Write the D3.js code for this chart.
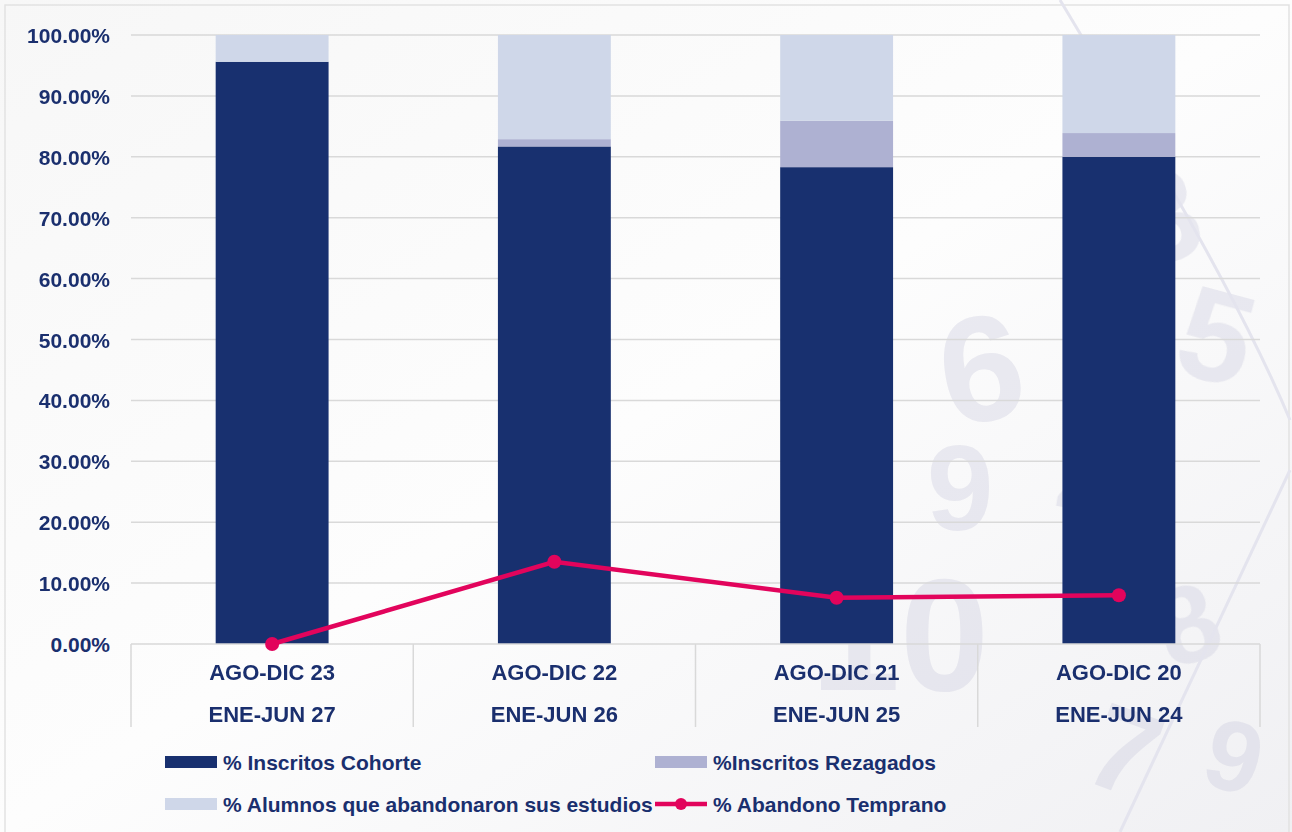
<!DOCTYPE html>
<html>
<head>
<meta charset="utf-8">
<script src="https://cdn.jsdelivr.net/npm/d3@7"></script>
<style>
  body { margin: 0; background: #ffffff; }
  svg text { font-family: "Liberation Sans", Arial, sans-serif; font-weight: bold; fill: #1a2f6e; }
</style>
</head>
<body>
<div id="chart"></div>
<script>
// Data
const categories = [["AGO-DIC 23", "ENE-JUN 27"], ["AGO-DIC 22", "ENE-JUN 26"], ["AGO-DIC 21", "ENE-JUN 25"], ["AGO-DIC 20", "ENE-JUN 24"]];
const cohorte = [95.6, 81.7, 78.3, 80.0];
const rezagados = [0.0, 1.2, 7.6, 3.9];
const abandonaron = [4.4, 17.1, 14.1, 16.1];
const abandonoTemprano = [0.0, 13.5, 7.6, 8.0];
const yTicks = [0, 10, 20, 30, 40, 50, 60, 70, 80, 90, 100];

const seriesNames = ["% Inscritos Cohorte", "%Inscritos Rezagados", "% Alumnos que abandonaron sus estudios"];
const lineName = "% Abandono Temprano";
const colors = ["#18306f", "#aeb1d2", "#cfd7e9"];
const lineColor = "#e2045c";

const W = 1292, H = 832;
const margin = { top: 35, right: 32, bottom: 188, left: 131 };
const width = W - margin.left - margin.right,
    height = H - margin.top - margin.bottom;

const svg = d3.select("#chart").append("svg")
    .attr("width", W)
    .attr("height", H);

// Background
const defs = svg.append("defs");
const grad = defs.append("linearGradient").attr("id", "bg")
    .attr("x1", "0").attr("y1", "0").attr("x2", "1").attr("y2", "1");
grad.append("stop").attr("offset", "0").attr("stop-color", "#f7f7f7");
grad.append("stop").attr("offset", "0.5").attr("stop-color", "#fdfdfd");
grad.append("stop").attr("offset", "1").attr("stop-color", "#f0f0f3");
svg.append("rect").attr("width", W).attr("height", H).attr("fill", "url(#bg)");
svg.append("rect").attr("x", 5).attr("y", 5).attr("width", W - 8).attr("height", H + 10)
    .attr("fill", "none").attr("stroke", "#e2e2e2").attr("stroke-width", 1.5);

// faint watermark numerals on the right
const deco = svg.append("g").attr("opacity", 0.35);
[["3", 1175, 260, 130, -15], ["5", 1205, 380, 130, 15], ["6", 990, 420, 150, -10],
 ["9", 960, 530, 120, 0], ["2", 1080, 510, 100, 10], ["10", 900, 690, 160, 0],
 ["7", 1110, 790, 120, 20], ["8", 1200, 660, 110, -20], ["9", 1225, 790, 100, 15]]
    .forEach(([t, x, y, s, r]) => {
        deco.append("text").attr("transform", `translate(${x},${y}) rotate(${r})`)
            .attr("text-anchor", "middle").style("font-size", s + "px")
            .style("fill", "#c9c9dc").text(t);
    });
svg.append("path").attr("d", "M1060,0 C1150,150 1240,300 1290,420").attr("fill", "none")
    .attr("stroke", "#e4e4ee").attr("stroke-width", 3);
svg.append("path").attr("d", "M1290,470 L1120,832").attr("fill", "none")
    .attr("stroke", "#e4e4ee").attr("stroke-width", 3);

const g = svg.append("g").attr("transform", `translate(${margin.left},${margin.top})`);

// Scales
const x = d3.scaleBand()
    .domain(d3.range(categories.length))
    .range([0, width])
    .paddingInner(0.6)
    .paddingOuter(0.3);
const xOuter = d3.scaleBand().domain(d3.range(categories.length)).range([0, width]);
const y = d3.scaleLinear().domain([0, 100]).range([height, 0]);

// Gridlines
g.append("g")
    .selectAll("line")
    .data(yTicks.slice(1))
    .enter().append("line")
    .attr("x1", 0).attr("x2", width)
    .attr("y1", d => y(d)).attr("y2", d => y(d))
    .attr("stroke", "#d9d9d9").attr("stroke-width", 1.5);

// Y axis
const yAxis = g.append("g")
    .call(d3.axisLeft(y).tickValues(yTicks).tickFormat(d => d.toFixed(2) + "%").tickSize(0).tickPadding(21));
yAxis.select(".domain").remove();
yAxis.selectAll("text").style("font-size", "21px").attr("dy", "0.36em");

// Stacked bars
const rows = categories.map((c, i) => ({ i, cohorte: cohorte[i], rezagados: rezagados[i], abandonaron: abandonaron[i] }));
const stack = d3.stack().keys(["cohorte", "rezagados", "abandonaron"])(rows);
g.append("g")
    .selectAll("g")
    .data(stack)
    .enter().append("g")
    .attr("fill", (d, k) => colors[k])
    .selectAll("rect")
    .data(d => d)
    .enter().append("rect")
    .attr("x", d => x(d.data.i))
    .attr("y", d => y(d[1]))
    .attr("width", x.bandwidth())
    .attr("height", d => y(d[0]) - y(d[1]));

// X axis: baseline + separators
const axisY = height;
g.append("line").attr("x1", 0).attr("x2", width).attr("y1", axisY).attr("y2", axisY)
    .attr("stroke", "#d9d9d9").attr("stroke-width", 1.5);
g.append("g")
    .selectAll("line")
    .data(d3.range(categories.length + 1))
    .enter().append("line")
    .attr("x1", d => d * xOuter.step()).attr("x2", d => d * xOuter.step())
    .attr("y1", axisY).attr("y2", axisY + 83)
    .attr("stroke", "#d9d9d9").attr("stroke-width", 1.5);
const xl = g.append("g")
    .selectAll("text")
    .data(categories)
    .enter().append("text")
    .attr("text-anchor", "middle")
    .attr("x", (d, i) => x(i) + x.bandwidth() / 2)
    .attr("y", axisY + 36)
    .style("font-size", "22px");
xl.append("tspan").text(d => d[0]);
xl.append("tspan").attr("x", (d, i) => x(i) + x.bandwidth() / 2).attr("dy", 42).text(d => d[1]);

// Line
const line = d3.line()
    .x((d, i) => x(i) + x.bandwidth() / 2)
    .y(d => y(d));
g.append("path")
    .datum(abandonoTemprano)
    .attr("fill", "none")
    .attr("stroke", lineColor)
    .attr("stroke-width", 4.5)
    .attr("d", line);
g.append("g")
    .selectAll("circle")
    .data(abandonoTemprano)
    .enter().append("circle")
    .attr("cx", (d, i) => x(i) + x.bandwidth() / 2)
    .attr("cy", d => y(d))
    .attr("r", 7)
    .attr("fill", lineColor);

// Legend
const legend = svg.append("g");
const legendItems = [
    { name: seriesNames[0], type: "rect", color: colors[0], lx: 165, ly: 762 },
    { name: seriesNames[1], type: "rect", color: colors[1], lx: 655, ly: 762 },
    { name: seriesNames[2], type: "rect", color: colors[2], lx: 165, ly: 804 },
    { name: lineName, type: "line", color: lineColor, lx: 655, ly: 804 }
];
legendItems.forEach(it => {
    const li = legend.append("g").attr("transform", `translate(${it.lx},${it.ly})`);
    if (it.type === "rect") {
        li.append("rect").attr("x", 0).attr("y", -6).attr("width", 52).attr("height", 12).attr("fill", it.color);
    } else {
        li.append("line").attr("x1", 0).attr("x2", 52).attr("y1", 0).attr("y2", 0)
            .attr("stroke", it.color).attr("stroke-width", 4.5);
        li.append("circle").attr("cx", 26).attr("cy", 0).attr("r", 6).attr("fill", it.color);
    }
    li.append("text").attr("x", 58).attr("y", 0).attr("dy", "0.36em")
        .style("font-size", "21px").text(it.name);
});
</script>
</body>
</html>
